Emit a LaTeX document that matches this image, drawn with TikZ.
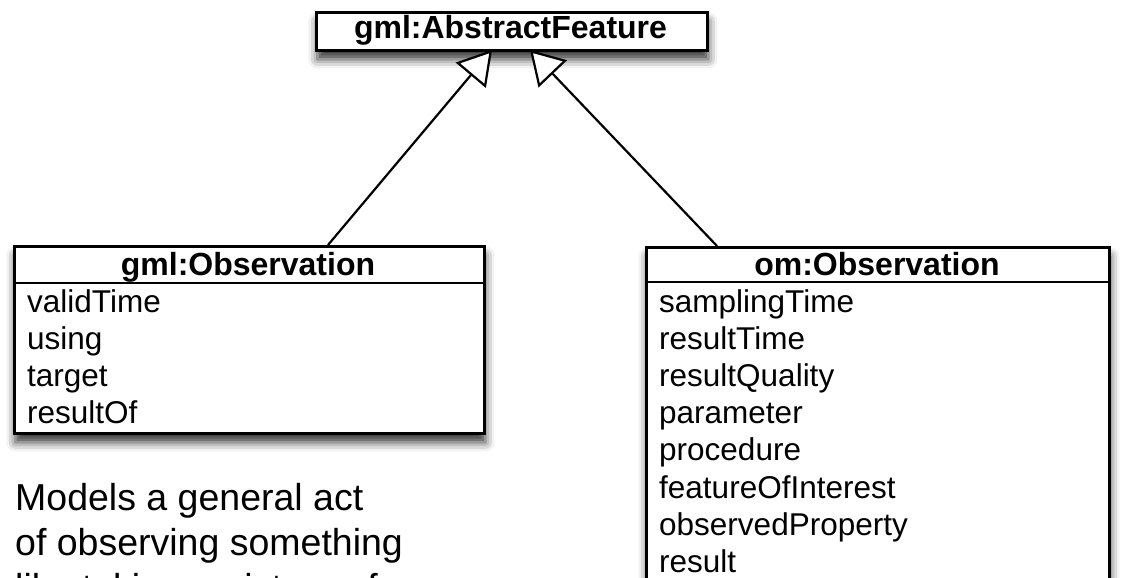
\documentclass[tikz,border=0pt]{standalone}
\usepackage{fontspec}
\setmainfont{Liberation Sans}
\usetikzlibrary{arrows.meta,shadows.blur}
\begin{document}
\begin{tikzpicture}[x=1pt,y=-1pt,
  classbox/.style={draw=black, line width=2.7pt, fill=white, inner sep=0pt,
    anchor=north west,
    blur shadow={shadow xshift=1pt, shadow yshift=-9pt,
      shadow blur radius=9pt, shadow opacity=80}},
  divider/.style={line width=2.7pt},
  classname/.style={anchor=base, inner sep=0pt,
    font=\fontsize{32}{37}\selectfont\bfseries},
  attr/.style={anchor=base west, inner sep=0pt,
    font=\fontsize{31.5}{37}\selectfont},
  note/.style={anchor=base west, inner sep=0pt,
    font=\fontsize{37.5}{45}\selectfont},
  inherits/.style={line width=2.2pt,
    -{Triangle[open, fill=white, length=33pt, width=39pt, line width=2.2pt]}}]

\useasboundingbox (0,0) rectangle (1130,578);
\clip (0,0) rectangle (1130,578);

% superclass
\node[classbox, minimum width=391pt, minimum height=38pt] (feat) at (315,11) {};
\node[classname] (featname) at (510.5,38.5) {gml:AbstractFeature};

% gml:Observation
\node[classbox, minimum width=470pt, minimum height=187pt] (gmlobs) at (13,245) {};
\draw[divider] (13,283) -- (483,283);
\node[classname] (gmlobsname) at (248,275) {gml:Observation};
\node[attr] (g1) at (27,312) {validTime};
\node[attr] (g2) at (27,349.2) {using};
\node[attr] (g3) at (27,386.4) {target};
\node[attr] (g4) at (27,423.6) {resultOf};

% om:Observation
\node[classbox, minimum width=463pt, minimum height=380pt] (omobs) at (645,246) {};
\draw[divider] (645,282) -- (1108,282);
\node[classname] (omobsname) at (877,275) {om:Observation};
\node[attr] (o1) at (659,312) {samplingTime};
\node[attr] (o2) at (659,349.2) {resultTime};
\node[attr] (o3) at (659,386.4) {resultQuality};
\node[attr] (o4) at (659,423.6) {parameter};
\node[attr] (o5) at (659,460.8) {procedure};
\node[attr] (o6) at (659,498) {featureOfInterest};
\node[attr] (o7) at (659,535.2) {observedProperty};
\node[attr] (o8) at (659,572.4) {result};

% generalisation links
\coordinate (gmltop) at (328,245);
\coordinate (omtop) at (717,246);
\coordinate (featL) at (492,50);
\coordinate (featR) at (530,50);
\draw[inherits] (gmltop) -- (featL);
\draw[inherits] (omtop) -- (featR);

% description
\node[note] (n1) at (15,510) {Models a general act};
\node[note] (n2) at (15,555) {of observing something};
\node[note] (n3) at (15,600) {like taking a picture of};
\end{tikzpicture}
\end{document}
